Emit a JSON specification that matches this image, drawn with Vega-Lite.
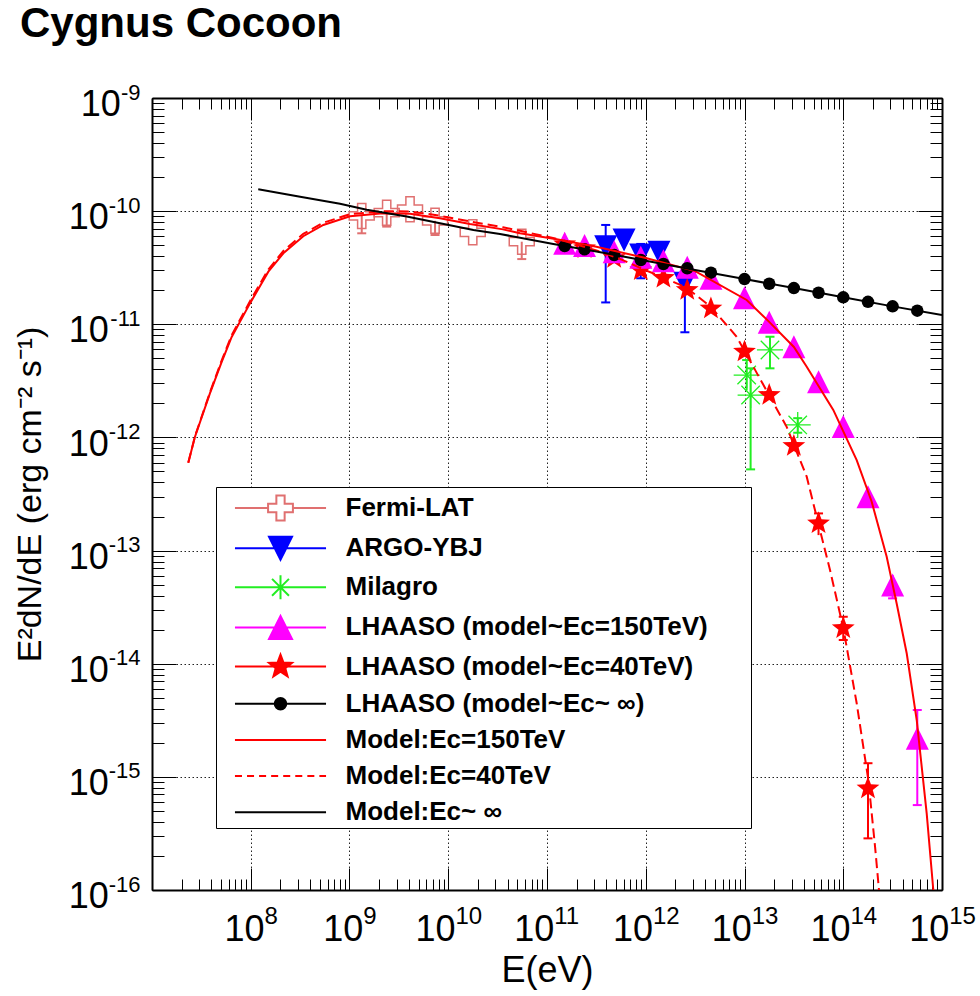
{
  "$schema": "https://vega.github.io/schema/vega-lite/v6.json",
  "width": 790,
  "height": 792,
  "autosize": {"type": "none"},
  "padding": {"left": 152, "top": 98, "right": 38, "bottom": 106},
  "background": "white",
  "config": {"view": {"stroke": null}, "font": "Liberation Sans"},
  "title": {"text": "Cygnus Cocoon", "anchor": "start", "frame": "group", "font": "Liberation Sans", "fontSize": 42, "fontWeight": "bold", "color": "black", "dx": -132, "offset": 2, "baseline": "alphabetic"},
  "resolve": {"axis": {"x": "independent", "y": "independent"}},
  "datasets": {
    "fermi": [
      {"E": 1.33e9, "F": 9.06e-11},
      {"E": 2.38e9, "F": 9.68e-11},
      {"E": 4.10e9, "F": 1.04e-10},
      {"E": 7.35e9, "F": 8.22e-11},
      {"E": 1.77e10, "F": 6.5e-11},
      {"E": 5.55e10, "F": 5.37e-11}
    ],
    "argo": [
      {"E": 3.93e11, "F": 4.85e-11},
      {"E": 6.03e11, "F": 5.56e-11},
      {"E": 8.89e11, "F": 4.09e-11},
      {"E": 1.36e12, "F": 4.33e-11},
      {"E": 2.49e12, "F": 2.30e-11}
    ],
    "milagro": [
      {"E": 1.052e13, "F": 3.56e-12},
      {"E": 1.153e13, "F": 2.37e-12},
      {"E": 1.811e13, "F": 5.93e-12},
      {"E": 3.459e13, "F": 1.29e-12}
    ],
    "lh150": [
      {"E": 1.51e11, "F": 5.2e-11},
      {"E": 2.40e11, "F": 4.96e-11},
      {"E": 4.79e11, "F": 4.38e-11},
      {"E": 8.91e11, "F": 3.91e-11},
      {"E": 1.51e12, "F": 3.65e-11},
      {"E": 2.63e12, "F": 3.19e-11},
      {"E": 4.57e12, "F": 2.55e-11},
      {"E": 1.0e13, "F": 1.72e-11},
      {"E": 1.78e13, "F": 1.04e-11},
      {"E": 3.16e13, "F": 6.34e-12},
      {"E": 5.62e13, "F": 3.11e-12},
      {"E": 1.0e14, "F": 1.25e-12},
      {"E": 1.78e14, "F": 2.99e-13},
      {"E": 3.16e14, "F": 4.96e-14},
      {"E": 5.62e14, "F": 2.19e-15}
    ],
    "lh40": [
      {"E": 1.51e11, "F": 5.1e-11},
      {"E": 2.40e11, "F": 4.7e-11},
      {"E": 4.79e11, "F": 3.85e-11},
      {"E": 8.91e11, "F": 3.0e-11},
      {"E": 1.51e12, "F": 2.57e-11},
      {"E": 2.63e12, "F": 2.01e-11},
      {"E": 4.57e12, "F": 1.38e-11},
      {"E": 1.0e13, "F": 5.73e-12},
      {"E": 1.78e13, "F": 2.37e-12},
      {"E": 3.16e13, "F": 8.4e-13},
      {"E": 5.62e13, "F": 1.74e-13},
      {"E": 1.0e14, "F": 2.06e-14},
      {"E": 1.78e14, "F": 7.9e-16}
    ],
    "lhinf": [
      {"E": 1.51e11, "F": 4.92e-11},
      {"E": 2.40e11, "F": 4.6e-11},
      {"E": 4.79e11, "F": 4.09e-11},
      {"E": 8.91e11, "F": 3.70e-11},
      {"E": 1.51e12, "F": 3.41e-11},
      {"E": 2.63e12, "F": 3.13e-11},
      {"E": 4.57e12, "F": 2.86e-11},
      {"E": 1.0e13, "F": 2.51e-11},
      {"E": 1.78e13, "F": 2.28e-11},
      {"E": 3.16e13, "F": 2.09e-11},
      {"E": 5.62e13, "F": 1.90e-11},
      {"E": 1.0e14, "F": 1.73e-11},
      {"E": 1.78e14, "F": 1.58e-11},
      {"E": 3.16e14, "F": 1.44e-11},
      {"E": 5.62e14, "F": 1.32e-11}
    ],
    "errs": [
      {"set": "fermi", "E": 1.33e9, "lo": 6.37e-11, "hi": 9.06e-11},
      {"set": "fermi", "E": 2.38e9, "lo": 7.3e-11, "hi": 9.68e-11},
      {"set": "fermi", "E": 7.35e9, "lo": 6.15e-11, "hi": 8.22e-11},
      {"set": "fermi", "E": 5.55e10, "lo": 3.77e-11, "hi": 5.37e-11},
      {"set": "argo", "E": 3.93e11, "lo": 1.56e-11, "hi": 7.55e-11},
      {"set": "argo", "E": 6.03e11, "lo": 4.6e-11, "hi": 6.67e-11},
      {"set": "argo", "E": 8.89e11, "lo": 2.55e-11, "hi": 5.13e-11},
      {"set": "argo", "E": 1.36e12, "lo": 3.6e-11, "hi": 5.2e-11},
      {"set": "argo", "E": 2.49e12, "lo": 8.5e-12, "hi": 2.9e-11},
      {"set": "milagro", "E": 1.052e13, "lo": 2.6e-12, "hi": 4.83e-12},
      {"set": "milagro", "E": 1.153e13, "lo": 5.22e-13, "hi": 4.08e-12},
      {"set": "milagro", "E": 1.811e13, "lo": 4.08e-12, "hi": 7.76e-12},
      {"set": "milagro", "E": 3.459e13, "lo": 1.1e-12, "hi": 1.48e-12},
      {"set": "lh150", "E": 3.16e14, "lo": 3.78e-14, "hi": 6.08e-14},
      {"set": "lh150", "E": 5.62e14, "lo": 5.63e-16, "hi": 3.9e-15},
      {"set": "lh40", "E": 5.62e13, "lo": 1.37e-13, "hi": 2.13e-13},
      {"set": "lh40", "E": 1.0e14, "lo": 1.62e-14, "hi": 2.6e-14},
      {"set": "lh40", "E": 1.78e14, "lo": 2.86e-16, "hi": 1.32e-15}
    ],
    "caps": [
      {"set": "fermi", "E": 1.33e9, "y": 6.37e-11},
      {"set": "fermi", "E": 2.38e9, "y": 7.3e-11},
      {"set": "fermi", "E": 7.35e9, "y": 6.15e-11},
      {"set": "fermi", "E": 5.55e10, "y": 3.77e-11},
      {"set": "argo", "E": 3.93e11, "y": 1.56e-11},
      {"set": "argo", "E": 3.93e11, "y": 7.55e-11},
      {"set": "argo", "E": 6.03e11, "y": 6.67e-11},
      {"set": "argo", "E": 8.89e11, "y": 2.55e-11},
      {"set": "argo", "E": 8.89e11, "y": 5.13e-11},
      {"set": "argo", "E": 1.36e12, "y": 5.2e-11},
      {"set": "argo", "E": 2.49e12, "y": 8.5e-12},
      {"set": "milagro", "E": 1.052e13, "y": 4.83e-12},
      {"set": "milagro", "E": 1.153e13, "y": 4.08e-12},
      {"set": "milagro", "E": 1.153e13, "y": 5.22e-13},
      {"set": "milagro", "E": 1.811e13, "y": 7.76e-12},
      {"set": "milagro", "E": 1.811e13, "y": 4.08e-12},
      {"set": "milagro", "E": 3.459e13, "y": 1.48e-12},
      {"set": "milagro", "E": 3.459e13, "y": 1.1e-12},
      {"set": "lh150", "E": 3.16e14, "y": 3.78e-14},
      {"set": "lh150", "E": 5.62e14, "y": 5.63e-16},
      {"set": "lh150", "E": 5.62e14, "y": 3.9e-15},
      {"set": "lh40", "E": 5.62e13, "y": 2.13e-13},
      {"set": "lh40", "E": 1.0e14, "y": 1.62e-14},
      {"set": "lh40", "E": 1.0e14, "y": 2.6e-14},
      {"set": "lh40", "E": 1.78e14, "y": 2.86e-16},
      {"set": "lh40", "E": 1.78e14, "y": 1.32e-15}
    ],
    "m150": [
      {"E": 2.33e7, "F": 5.98e-13},
      {"E": 2.72e7, "F": 1.01e-12},
      {"E": 3.86e7, "F": 2.45e-12},
      {"E": 5.08e7, "F": 4.65e-12},
      {"E": 6.41e7, "F": 7.73e-12},
      {"E": 9.82e7, "F": 1.53e-11},
      {"E": 1.507e8, "F": 2.92e-11},
      {"E": 2.138e8, "F": 4.24e-11},
      {"E": 3.404e8, "F": 6.0e-11},
      {"E": 5.433e8, "F": 7.55e-11},
      {"E": 1.012e9, "F": 9.0e-11},
      {"E": 2.183e9, "F": 9.58e-11},
      {"E": 4.102e9, "F": 9.5e-11},
      {"E": 8.241e9, "F": 8.65e-11},
      {"E": 1.66e10, "F": 7.7e-11},
      {"E": 3.581e10, "F": 6.9e-11},
      {"E": 5.333e10, "F": 6.37e-11},
      {"E": 1.253e11, "F": 5.64e-11},
      {"E": 3.162e11, "F": 4.85e-11},
      {"E": 1.0e12, "F": 3.85e-11},
      {"E": 3.162e12, "F": 2.95e-11},
      {"E": 1.052e13, "F": 1.64e-11},
      {"E": 1.778e13, "F": 1.05e-11},
      {"E": 3.162e13, "F": 6.3e-12},
      {"E": 4.266e13, "F": 4.22e-12},
      {"E": 7.925e13, "F": 1.75e-12},
      {"E": 1.368e14, "F": 6.31e-13},
      {"E": 1.941e14, "F": 2.7e-13},
      {"E": 2.754e14, "F": 8.83e-14},
      {"E": 3.475e14, "F": 3.41e-14},
      {"E": 4.395e14, "F": 1.23e-14},
      {"E": 5.546e14, "F": 3.18e-15},
      {"E": 6.998e14, "F": 4.76e-16},
      {"E": 8.166e14, "F": 1.0e-16}
    ],
    "m40": [
      {"E": 2.33e7, "F": 5.98e-13},
      {"E": 2.72e7, "F": 1.02e-12},
      {"E": 3.86e7, "F": 2.5e-12},
      {"E": 5.08e7, "F": 4.8e-12},
      {"E": 6.41e7, "F": 8.0e-12},
      {"E": 9.82e7, "F": 1.6e-11},
      {"E": 1.507e8, "F": 3.05e-11},
      {"E": 2.138e8, "F": 4.45e-11},
      {"E": 3.404e8, "F": 6.3e-11},
      {"E": 5.433e8, "F": 7.9e-11},
      {"E": 1.012e9, "F": 9.4e-11},
      {"E": 2.183e9, "F": 1.0e-10},
      {"E": 4.102e9, "F": 9.95e-11},
      {"E": 8.241e9, "F": 9.1e-11},
      {"E": 1.66e10, "F": 8.1e-11},
      {"E": 3.581e10, "F": 7.2e-11},
      {"E": 5.333e10, "F": 6.7e-11},
      {"E": 1.253e11, "F": 5.7e-11},
      {"E": 3.162e11, "F": 4.5e-11},
      {"E": 5.623e11, "F": 3.75e-11},
      {"E": 1.0e12, "F": 3.0e-11},
      {"E": 1.585e12, "F": 2.55e-11},
      {"E": 2.6e12, "F": 2.1e-11},
      {"E": 4.55e12, "F": 1.43e-11},
      {"E": 8.337e12, "F": 7.76e-12},
      {"E": 1.77e13, "F": 2.37e-12},
      {"E": 2.673e13, "F": 1.24e-12},
      {"E": 4.266e13, "F": 4.5e-13},
      {"E": 5.585e13, "F": 1.74e-13},
      {"E": 7.345e13, "F": 6.73e-14},
      {"E": 1.002e14, "F": 2.06e-14},
      {"E": 1.368e14, "F": 4.47e-15},
      {"E": 1.795e14, "F": 9.38e-16},
      {"E": 2.099e14, "F": 2.42e-16},
      {"E": 2.301e14, "F": 1.0e-16}
    ],
    "minf": [
      {"E": 1.191e8, "F": 1.56e-10},
      {"E": 3.162e8, "F": 1.34e-10},
      {"E": 8.017e8, "F": 1.16e-10},
      {"E": 1.493e9, "F": 1.03e-10},
      {"E": 3.793e9, "F": 8.95e-11},
      {"E": 1.799e10, "F": 6.81e-11},
      {"E": 3.342e10, "F": 6.28e-11},
      {"E": 1.159e11, "F": 5.13e-11},
      {"E": 3.162e11, "F": 4.4e-11},
      {"E": 1.0e12, "F": 3.65e-11},
      {"E": 3.162e12, "F": 3.02e-11},
      {"E": 1.0e13, "F": 2.51e-11},
      {"E": 3.162e13, "F": 2.09e-11},
      {"E": 1.0e14, "F": 1.73e-11},
      {"E": 3.162e14, "F": 1.44e-11},
      {"E": 1.0e15, "F": 1.21e-11}
    ],
    "legend": [
      {"series": "Fermi-LAT", "E": 1e5, "F": 1e-20},
      {"series": "ARGO-YBJ", "E": 1e5, "F": 1e-20},
      {"series": "Milagro", "E": 1e5, "F": 1e-20},
      {"series": "LHAASO (model~Ec=150TeV)", "E": 1e5, "F": 1e-20},
      {"series": "LHAASO (model~Ec=40TeV)", "E": 1e5, "F": 1e-20},
      {"series": "LHAASO (model~Ec~ ∞)", "E": 1e5, "F": 1e-20},
      {"series": "Model:Ec=150TeV", "E": 1e5, "F": 1e-20},
      {"series": "Model:Ec=40TeV", "E": 1e5, "F": 1e-20},
      {"series": "Model:Ec~ ∞", "E": 1e5, "F": 1e-20}
    ]
  },
  "layer": [
    {
      "data": {"name": "errs"},
      "mark": {"type": "rule", "strokeWidth": 2, "clip": true},
      "encoding": {
        "x": {"field": "E", "type": "quantitative", "scale": {"type": "log", "domain": [1e7, 1e15], "nice": false},
          "axis": {
            "orient": "bottom",
            "values": [1e7,2e7,3e7,4e7,5e7,6e7,7e7,8e7,9e7,1e8,2e8,3e8,4e8,5e8,6e8,7e8,8e8,9e8,1e9,2e9,3e9,4e9,5e9,6e9,7e9,8e9,9e9,1e10,2e10,3e10,4e10,5e10,6e10,7e10,8e10,9e10,1e11,2e11,3e11,4e11,5e11,6e11,7e11,8e11,9e11,1e12,2e12,3e12,4e12,5e12,6e12,7e12,8e12,9e12,1e13,2e13,3e13,4e13,5e13,6e13,7e13,8e13,9e13,1e14,2e14,3e14,4e14,5e14,6e14,7e14,8e14,9e14,1e15],
            "labelExpr": "(abs(log(datum.value)/LN10 - round(log(datum.value)/LN10)) > 0.001 || datum.value < 5e7) ? '' : '10'",
            "tickSize": {"condition": {"test": "abs(log(datum.value)/LN10 - round(log(datum.value)/LN10)) < 0.001", "value": -22}, "value": -11},
            "tickColor": "black", "tickWidth": 1,
            "grid": true,
            "gridOpacity": {"condition": {"test": "abs(log(datum.value)/LN10 - round(log(datum.value)/LN10)) < 0.001", "value": 1}, "value": 0},
            "gridDash": [1.5, 2.5], "gridColor": "#222", "gridWidth": 1,
            "domainColor": "black", "domainWidth": 2,
            "labelFont": "Liberation Sans", "labelFontSize": 36, "labelColor": "black",
            "labelAlign": "right", "labelBaseline": "alphabetic",
            "labelOffset": {"condition": {"test": "datum.value > 5e9", "value": 6.7}, "value": 13.3},
            "labelPadding": 72, "labelFlush": false, "labelOverlap": false, "labelBound": false,
            "title": "E(eV)", "titleFont": "Liberation Sans", "titleFontSize": 36, "titleFontWeight": "normal", "titleColor": "black", "titlePadding": -5
          }
        },
        "y": {"field": "lo", "type": "quantitative", "scale": {"type": "log", "domain": [1e-16, 1e-9], "nice": false},
          "axis": {
            "orient": "left",
            "values": [1e-16,2e-16,3e-16,4e-16,5e-16,6e-16,7e-16,8e-16,9e-16,1e-15,2e-15,3e-15,4e-15,5e-15,6e-15,7e-15,8e-15,9e-15,1e-14,2e-14,3e-14,4e-14,5e-14,6e-14,7e-14,8e-14,9e-14,1e-13,2e-13,3e-13,4e-13,5e-13,6e-13,7e-13,8e-13,9e-13,1e-12,2e-12,3e-12,4e-12,5e-12,6e-12,7e-12,8e-12,9e-12,1e-11,2e-11,3e-11,4e-11,5e-11,6e-11,7e-11,8e-11,9e-11,1e-10,2e-10,3e-10,4e-10,5e-10,6e-10,7e-10,8e-10,9e-10,1e-9],
            "labelExpr": "abs(log(datum.value)/LN10 - round(log(datum.value)/LN10)) > 0.001 ? '' : '10'",
            "tickSize": {"condition": {"test": "abs(log(datum.value)/LN10 - round(log(datum.value)/LN10)) < 0.001", "value": -24}, "value": -12},
            "tickColor": "black", "tickWidth": 1,
            "grid": true,
            "gridOpacity": {"condition": {"test": "abs(log(datum.value)/LN10 - round(log(datum.value)/LN10)) < 0.001", "value": 1}, "value": 0},
            "gridDash": [1.5, 2.5], "gridColor": "#222", "gridWidth": 1,
            "domainColor": "black", "domainWidth": 2,
            "labelFont": "Liberation Sans", "labelFontSize": 36, "labelColor": "black",
            "labelAlign": "right", "labelBaseline": "middle",
            "labelPadding": {"condition": {"test": "datum.value > 5e-10", "value": 55.6}, "value": 67.8},
            "labelOffset": 6.6, "labelFlush": false, "labelOverlap": false, "labelBound": false,
            "title": "E²dN/dE (erg cm⁻² s⁻¹)", "titleFont": "Liberation Sans", "titleFontSize": 34, "titleFontWeight": "normal", "titleColor": "black", "titlePadding": 21
          }
        },
        "y2": {"field": "hi"},
        "color": {"field": "set", "type": "nominal", "scale": {"domain": ["fermi", "argo", "milagro", "lh150", "lh40"], "range": ["#e07070", "#0000ff", "#22ee22", "#ff00ff", "#ff0000"]}, "legend": null}
      }
    },
    {
      "data": {"name": "caps"},
      "mark": {"type": "tick", "orient": "horizontal", "size": 9, "thickness": 2, "opacity": 1, "clip": true},
      "encoding": {
        "x": {"field": "E", "type": "quantitative", "scale": {"type": "log", "domain": [1e7, 1e15], "nice": false},
          "axis": {
            "orient": "bottom",
            "values": [1e8,1e9,1e10,1e11,1e12,1e13,1e14,1e15],
            "labelExpr": "'' + round(log(datum.value)/LN10)",
            "tickSize": -22, "tickOpacity": 0, "domain": false, "grid": false,
            "labelFont": "Liberation Sans", "labelFontSize": 24, "labelColor": "black",
            "labelAlign": "left", "labelBaseline": "alphabetic",
            "labelOffset": {"condition": {"test": "datum.value > 5e9", "value": 6.7}, "value": 13.3},
            "labelPadding": 55, "labelFlush": false, "labelOverlap": false, "labelBound": false,
            "title": null
          }
        },
        "y": {"field": "y", "type": "quantitative", "scale": {"type": "log", "domain": [1e-16, 1e-9], "nice": false},
          "axis": {
            "orient": "left",
            "values": [1e-16,1e-15,1e-14,1e-13,1e-12,1e-11,1e-10,1e-9],
            "labelExpr": "'' + round(log(datum.value)/LN10)",
            "tickSize": -24, "tickOpacity": 0, "domain": false, "grid": false,
            "labelFont": "Liberation Sans", "labelFontSize": 22, "labelColor": "black",
            "labelAlign": "right", "labelBaseline": "alphabetic",
            "labelOffset": 1,
            "labelPadding": 36, "labelFlush": false, "labelOverlap": false, "labelBound": false,
            "title": null
          }
        },
        "color": {"field": "set", "type": "nominal", "scale": {"domain": ["fermi", "argo", "milagro", "lh150", "lh40"], "range": ["#e07070", "#0000ff", "#22ee22", "#ff00ff", "#ff0000"]}, "legend": null}
      }
    },
    {
      "data": {"name": "fermi"},
      "mark": {"type": "point", "shape": "M-0.33,-1H0.33V-0.33H1V0.33H0.33V1H-0.33V0.33H-1V-0.33H-0.33Z", "size": 625, "filled": false, "stroke": "#e07070", "strokeWidth": 1.5, "opacity": 1, "clip": true},
      "encoding": {
        "x": {"field": "E", "type": "quantitative", "scale": {"type": "log", "domain": [1e7, 1e15], "nice": false}, "axis": null},
        "y": {"field": "F", "type": "quantitative", "scale": {"type": "log", "domain": [1e-16, 1e-9], "nice": false}, "axis": null}
      }
    },
    {
      "data": {"name": "argo"},
      "mark": {"type": "point", "shape": "M-1,-1H1L0,1Z", "size": 529, "filled": true, "color": "#0000ff", "opacity": 1, "clip": true},
      "encoding": {
        "x": {"field": "E", "type": "quantitative", "scale": {"type": "log", "domain": [1e7, 1e15], "nice": false}, "axis": null},
        "y": {"field": "F", "type": "quantitative", "scale": {"type": "log", "domain": [1e-16, 1e-9], "nice": false}, "axis": null}
      }
    },
    {
      "data": {"name": "milagro"},
      "mark": {"type": "point", "shape": "M-1,0H1M0,-1V1M-0.71,-0.71L0.71,0.71M-0.71,0.71L0.71,-0.71", "size": 676, "filled": false, "stroke": "#22ee22", "strokeWidth": 1.3, "opacity": 1, "clip": true},
      "encoding": {
        "x": {"field": "E", "type": "quantitative", "scale": {"type": "log", "domain": [1e7, 1e15], "nice": false}, "axis": null},
        "y": {"field": "F", "type": "quantitative", "scale": {"type": "log", "domain": [1e-16, 1e-9], "nice": false}, "axis": null}
      }
    },
    {
      "data": {"name": "lh40"},
      "mark": {"type": "point", "shape": "M0,-1L0.247,-0.34L0.951,-0.309L0.399,0.13L0.588,0.809L0,0.42L-0.588,0.809L-0.399,0.13L-0.951,-0.309L-0.247,-0.34Z", "size": 576, "filled": true, "color": "#ff0000", "opacity": 1, "clip": true},
      "encoding": {
        "x": {"field": "E", "type": "quantitative", "scale": {"type": "log", "domain": [1e7, 1e15], "nice": false}, "axis": null},
        "y": {"field": "F", "type": "quantitative", "scale": {"type": "log", "domain": [1e-16, 1e-9], "nice": false}, "axis": null}
      }
    },
    {
      "data": {"name": "lh150"},
      "mark": {"type": "point", "shape": "M0,-1L1,1H-1Z", "size": 529, "filled": true, "color": "#ff00ff", "opacity": 1, "clip": true},
      "encoding": {
        "x": {"field": "E", "type": "quantitative", "scale": {"type": "log", "domain": [1e7, 1e15], "nice": false}, "axis": null},
        "y": {"field": "F", "type": "quantitative", "scale": {"type": "log", "domain": [1e-16, 1e-9], "nice": false}, "axis": null}
      }
    },
    {
      "data": {"name": "lhinf"},
      "mark": {"type": "point", "shape": "circle", "size": 156, "filled": true, "color": "#000000", "opacity": 1, "clip": true},
      "encoding": {
        "x": {"field": "E", "type": "quantitative", "scale": {"type": "log", "domain": [1e7, 1e15], "nice": false}, "axis": null},
        "y": {"field": "F", "type": "quantitative", "scale": {"type": "log", "domain": [1e-16, 1e-9], "nice": false}, "axis": null}
      }
    },
    {
      "data": {"name": "m150"},
      "mark": {"type": "line", "color": "#ff0000", "strokeWidth": 2, "clip": true},
      "encoding": {
        "x": {"field": "E", "type": "quantitative", "scale": {"type": "log", "domain": [1e7, 1e15], "nice": false}, "axis": null},
        "y": {"field": "F", "type": "quantitative", "scale": {"type": "log", "domain": [1e-16, 1e-9], "nice": false}, "axis": null}
      }
    },
    {
      "data": {"name": "m40"},
      "mark": {"type": "line", "color": "#ff0000", "strokeWidth": 2, "strokeDash": [10, 5], "clip": true},
      "encoding": {
        "x": {"field": "E", "type": "quantitative", "scale": {"type": "log", "domain": [1e7, 1e15], "nice": false}, "axis": null},
        "y": {"field": "F", "type": "quantitative", "scale": {"type": "log", "domain": [1e-16, 1e-9], "nice": false}, "axis": null}
      }
    },
    {
      "data": {"name": "minf"},
      "mark": {"type": "line", "color": "#000000", "strokeWidth": 2, "clip": true},
      "encoding": {
        "x": {"field": "E", "type": "quantitative", "scale": {"type": "log", "domain": [1e7, 1e15], "nice": false}, "axis": null},
        "y": {"field": "F", "type": "quantitative", "scale": {"type": "log", "domain": [1e-16, 1e-9], "nice": false}, "axis": null}
      }
    },
    {
      "data": {"name": "legend"},
      "mark": {"type": "point", "filled": true, "size": 1296, "strokeWidth": 2, "opacity": 1, "clip": true},
      "encoding": {
        "x": {"field": "E", "type": "quantitative", "scale": {"type": "log", "domain": [1e7, 1e15], "nice": false},
          "axis": {
            "orient": "top",
            "values": [1e7,2e7,3e7,4e7,5e7,6e7,7e7,8e7,9e7,1e8,2e8,3e8,4e8,5e8,6e8,7e8,8e8,9e8,1e9,2e9,3e9,4e9,5e9,6e9,7e9,8e9,9e9,1e10,2e10,3e10,4e10,5e10,6e10,7e10,8e10,9e10,1e11,2e11,3e11,4e11,5e11,6e11,7e11,8e11,9e11,1e12,2e12,3e12,4e12,5e12,6e12,7e12,8e12,9e12,1e13,2e13,3e13,4e13,5e13,6e13,7e13,8e13,9e13,1e14,2e14,3e14,4e14,5e14,6e14,7e14,8e14,9e14,1e15],
            "labels": false, "grid": false, "title": null,
            "tickSize": {"condition": {"test": "abs(log(datum.value)/LN10 - round(log(datum.value)/LN10)) < 0.001", "value": -22}, "value": -11},
            "tickColor": "black", "tickWidth": 1,
            "domainColor": "black", "domainWidth": 2
          }
        },
        "y": {"field": "F", "type": "quantitative", "scale": {"type": "log", "domain": [1e-16, 1e-9], "nice": false},
          "axis": {
            "orient": "right",
            "values": [1e-16,2e-16,3e-16,4e-16,5e-16,6e-16,7e-16,8e-16,9e-16,1e-15,2e-15,3e-15,4e-15,5e-15,6e-15,7e-15,8e-15,9e-15,1e-14,2e-14,3e-14,4e-14,5e-14,6e-14,7e-14,8e-14,9e-14,1e-13,2e-13,3e-13,4e-13,5e-13,6e-13,7e-13,8e-13,9e-13,1e-12,2e-12,3e-12,4e-12,5e-12,6e-12,7e-12,8e-12,9e-12,1e-11,2e-11,3e-11,4e-11,5e-11,6e-11,7e-11,8e-11,9e-11,1e-10,2e-10,3e-10,4e-10,5e-10,6e-10,7e-10,8e-10,9e-10,1e-9],
            "labels": false, "grid": false, "title": null,
            "tickSize": {"condition": {"test": "abs(log(datum.value)/LN10 - round(log(datum.value)/LN10)) < 0.001", "value": -24}, "value": -12},
            "tickColor": "black", "tickWidth": 1,
            "domainColor": "black", "domainWidth": 2
          }
        },
        "shape": {"field": "series", "type": "nominal",
          "scale": {
            "domain": ["Fermi-LAT", "ARGO-YBJ", "Milagro", "LHAASO (model~Ec=150TeV)", "LHAASO (model~Ec=40TeV)", "LHAASO (model~Ec~ ∞)", "Model:Ec=150TeV", "Model:Ec=40TeV", "Model:Ec~ ∞"],
            "range": [
              "M-3.47,0M25.8,0M-2.53,0H-0.69M0.69,0H2.53M-0.23,-0.69H0.23V-0.23H0.69V0.23H0.23V0.69H-0.23V0.23H-0.69V-0.23H-0.23Z",
              "M-3.47,0M25.8,0M-2.53,0H2.53M-0.64,-0.64H0.64L0,0.64Z",
              "M-3.47,0M25.8,0M-2.53,0H2.53M-0.67,0H0.67M0,-0.67V0.67M-0.47,-0.47L0.47,0.47M-0.47,0.47L0.47,-0.47",
              "M-3.47,0M25.8,0M-2.53,0H2.53M0,-0.64L0.64,0.64H-0.64Z",
              "M-3.47,0M25.8,0M-2.53,0H2.53M0,-0.67L0.165,-0.228L0.637,-0.207L0.267,0.087L0.394,0.542L0,0.281L-0.394,0.542L-0.267,0.087L-0.637,-0.207L-0.165,-0.228Z",
              "M-3.47,0M25.8,0M-2.53,0H2.53M0.32,0A0.32,0.32,0,1,1,-0.32,0A0.32,0.32,0,1,1,0.32,0Z",
              "M-3.47,0M25.8,0M-2.53,0H2.53",
              "M-3.47,0M25.8,0M-2.53,0H-2.14M-1.86,0H-1.47M-1.19,0H-0.8M-0.52,0H-0.13M0.15,0H0.54M0.82,0H1.21M1.49,0H1.88M2.16,0H2.53",
              "M-3.47,0M25.8,0M-2.53,0H2.53"
            ]
          },
          "legend": {
            "title": null, "orient": "none", "legendX": 64, "legendY": 389, "direction": "vertical",
            "fillColor": "white", "strokeColor": "black", "padding": 2,
            "symbolSize": 1296, "symbolStrokeWidth": 2, "symbolOffset": 43.5, "labelOffset": 46, "rowPadding": 4.15,
            "labelFont": "Liberation Sans", "labelFontSize": 26, "labelFontWeight": "bold", "labelColor": "black", "labelLimit": 0,
            "symbolOpacity": 1
          }
        },
        "fill": {"field": "series", "type": "nominal",
          "scale": {
            "domain": ["Fermi-LAT", "ARGO-YBJ", "Milagro", "LHAASO (model~Ec=150TeV)", "LHAASO (model~Ec=40TeV)", "LHAASO (model~Ec~ ∞)", "Model:Ec=150TeV", "Model:Ec=40TeV", "Model:Ec~ ∞"],
            "range": ["white", "#0000ff", "transparent", "#ff00ff", "#ff0000", "#000000", "transparent", "transparent", "transparent"]
          }
        },
        "stroke": {"field": "series", "type": "nominal",
          "scale": {
            "domain": ["Fermi-LAT", "ARGO-YBJ", "Milagro", "LHAASO (model~Ec=150TeV)", "LHAASO (model~Ec=40TeV)", "LHAASO (model~Ec~ ∞)", "Model:Ec=150TeV", "Model:Ec=40TeV", "Model:Ec~ ∞"],
            "range": ["#e07070", "#0000ff", "#22ee22", "#ff00ff", "#ff0000", "#000000", "#ff0000", "#ff0000", "#000000"]
          }
        }
      }
    }
  ]
}
